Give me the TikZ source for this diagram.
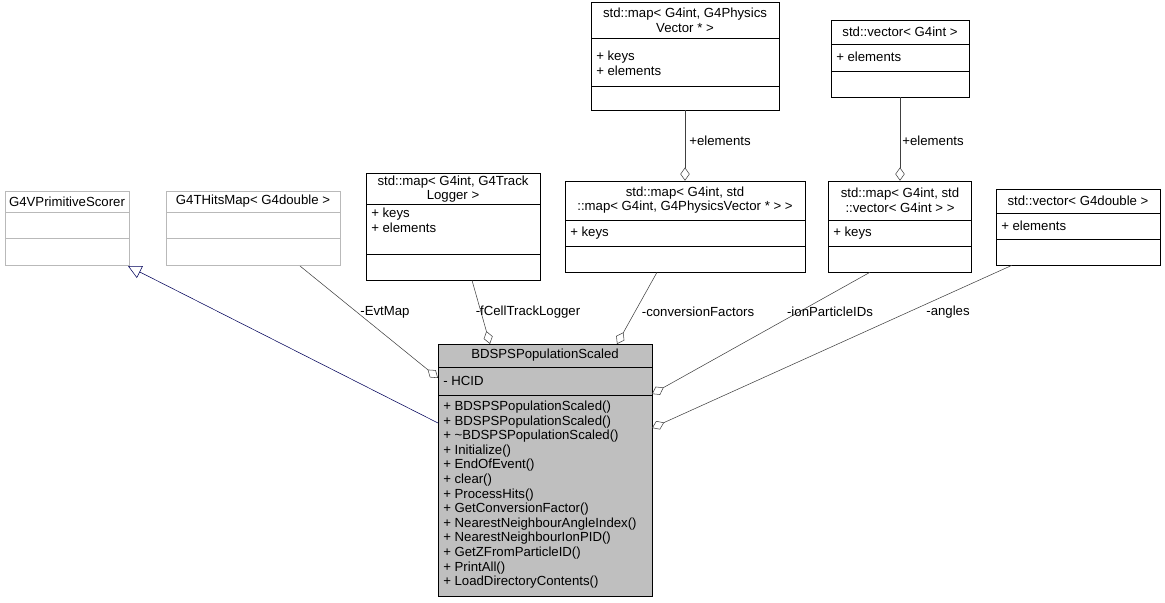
\documentclass[tikz,border=0pt]{standalone}
\usepackage{fontspec}
\setmainfont{Liberation Sans}
\usetikzlibrary{arrows.meta,fit}

\tikzset{
  box/.style={draw=black, inner sep=0pt},
  greybox/.style={draw=gray!55, inner sep=0pt},
  sep/.style={draw=black},
  title/.style={align=center, inner sep=0pt},
  item/.style={anchor=west, inner sep=0pt},
  member/.style={draw=black!75, -{Diamond[open,length=10pt,width=7pt]}},
  inherit/.style={draw=blue!35!black, -{Triangle[open,length=10pt,width=10pt]}},
  lbl/.style={inner sep=0pt}
}

\begin{document}
\begin{tikzpicture}[x=0.75pt,y=-0.75pt,font=\fontsize{9.9}{11}\selectfont]
\useasboundingbox (0,0) rectangle (1165,603);

% base class
\node (scorer) [greybox, fit={(5,191)(129,265)}] {};
\draw [gray!55] (5,212) -- (129,212) (5,238) -- (129,238);
\node [title] at (67,201.5) {G4VPrimitiveScorer};

\node (hitsmap) [greybox, fit={(166,191)(340,265)}] {};
\draw [gray!55] (166,212) -- (340,212) (166,238) -- (340,238);
\node [title] at (253,201.5) {G4THitsMap< G4double >};

% member maps
\node (trackmap) [box, fit={(366,173)(540,280)}] {};
\draw (366,204) -- (540,204) (366,254) -- (540,254);
\node [title] at (453,189) {std::map< G4int, G4Track\\Logger >};
\node [item] at (371,214) {+ keys};
\node [item] at (371,228) {+ elements};

\node (convmap) [box, fit={(565,181)(805,272)}] {};
\draw (565,220) -- (805,220) (565,246) -- (805,246);
\node [title] at (685,200) {std::map< G4int, std\\::map< G4int, G4PhysicsVector * > >};
\node [item] at (570,233) {+ keys};

\node (physmap) [box, fit={(591,2)(779,110)}] {};
\draw (591,38) -- (779,38) (591,86) -- (779,86);
\node [title] at (685,20) {std::map< G4int, G4Physics\\Vector * >};
\node [item] at (596,57) {+ keys};
\node [item] at (596,71) {+ elements};

\node (intvec) [box, fit={(831,20)(969,97)}] {};
\draw (831,44) -- (969,44) (831,71) -- (969,71);
\node [title] at (900,32) {std::vector< G4int >};
\node [item] at (836,57) {+ elements};

\node (ionmap) [box, fit={(828,181)(971,272)}] {};
\draw (828,220) -- (971,220) (828,246) -- (971,246);
\node [title] at (900,200) {std::map< G4int, std\\::vector< G4int > >};
\node [item] at (833,233) {+ keys};

\node (dblvec) [box, fit={(996,189)(1160,265)}] {};
\draw (996,213) -- (1160,213) (996,239) -- (1160,239);
\node [title] at (1078,201) {std::vector< G4double >};
\node [item] at (1001,226) {+ elements};

% main class
\node (scaled) [box, fill=gray!50, fit={(438,344)(652,596)}] {};
\draw (438,367) -- (652,367) (438,395) -- (652,395);
\node [title] at (545,355) {BDSPSPopulationScaled};
\node [item] at (443,381) {- HCID};
\foreach \m [count=\i from 0] in {BDSPSPopulationScaled(),BDSPSPopulationScaled(),
  \textasciitilde BDSPSPopulationScaled(),Initialize(),EndOfEvent(),clear(),
  ProcessHits(),GetConversionFactor(),NearestNeighbourAngleIndex(),
  NearestNeighbourIonPID(),GetZFromParticleID(),PrintAll(),LoadDirectoryContents()}
  \node [item] at (443,407+14.6*\i) {+ \m};

% connector ends
\coordinate (scorerEnd) at (128,266);
\coordinate (scaledBase) at (438,423);
\coordinate (evtEnd) at (438,378);
\coordinate (cellEnd) at (490,344);
\coordinate (convEnd) at (617,344);
\coordinate (ionEnd) at (652,394);
\coordinate (angEnd) at (652,428);

\draw [inherit] (scaledBase) -- (scorerEnd);
\draw [member] (300,266) coordinate (hitsOut) (hitsOut) -- (evtEnd);
\draw [member] (trackmap.south -| 472,0) -- (cellEnd);
\draw [member] (convmap.south -| 657,0) -- (convEnd);
\draw [member] (ionmap.south -| 870,0) -- (ionEnd);
\draw [member] (dblvec.south -| 1012,0) -- (angEnd);
\draw [member] (physmap.south) -- (convmap.north -| physmap.south);
\draw [member] (intvec.south) -- (ionmap.north -| intvec.south);

\node [lbl] at (385,312) {-EvtMap};
\node [lbl] at (528,312) {-fCellTrackLogger};
\node [lbl] at (698,312) {-conversionFactors};
\node [lbl] at (830,312) {-ionParticleIDs};
\node [lbl] at (948,312) {-angles};
\node [lbl] at (720,141) {+elements};
\node [lbl] at (933,141) {+elements};
\end{tikzpicture}
\end{document}
